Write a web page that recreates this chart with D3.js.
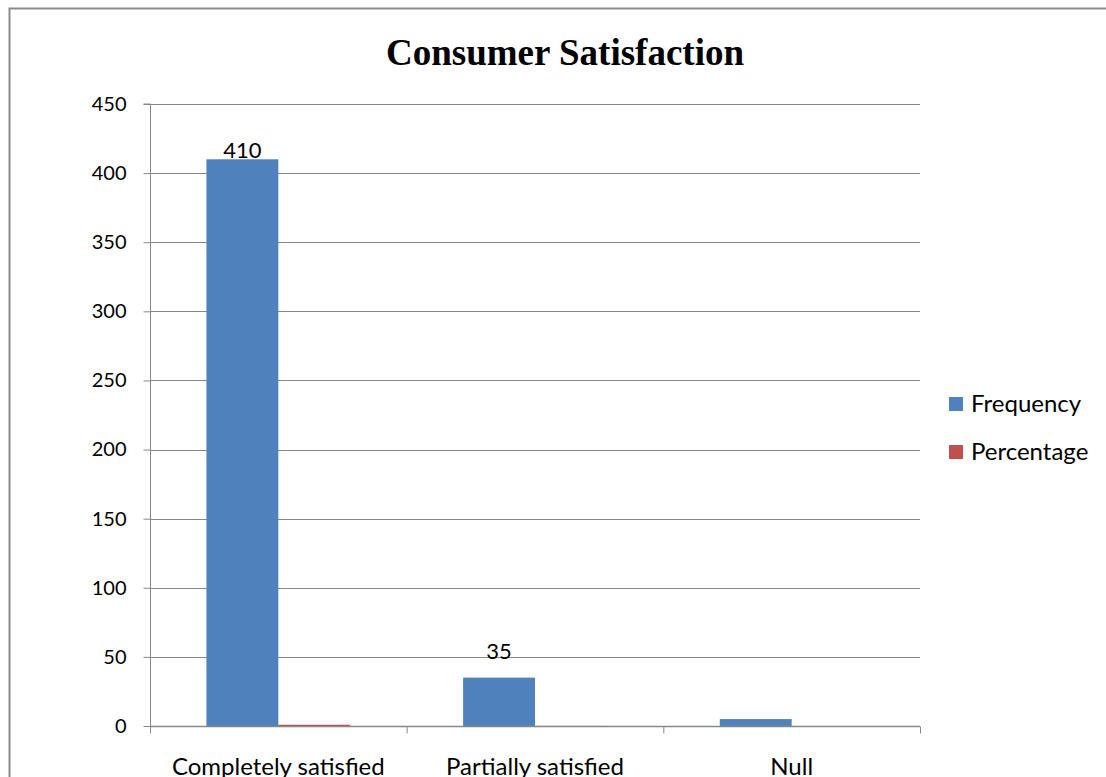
<!DOCTYPE html>
<html>
<head>
<meta charset="utf-8">
<script src="https://cdn.jsdelivr.net/npm/d3@7"></script>
<style>
html,body{margin:0;padding:0;background:#fff;}
svg{display:block;}
</style>
</head>
<body>
<svg id="chart" width="1106" height="777"></svg>
<script>
const categories = ["Completely satisfied", "Partially satisfied", "Null"];
const seriesNames = ["Frequency", "Percentage"];
const frequency = [410, 35, 5];
const percentage = [0.91, 0.08, 0.01];
const frequencyLabels = ["410", "35", ""];
const yTicks = [0, 50, 100, 150, 200, 250, 300, 350, 400, 450];
const colors = ["#4F81BD", "#C0504D"];
const title = "Consumer Satisfaction";

(function () {
const svg = d3.select("#chart");
const W = 1106, H = 777;
const pLeft = 150, pRight = 920, pTop = 104, pBottom = 726;
const sans = "Lato, 'Open Sans', sans-serif";

// outer frame
svg.append("path")
  .attr("d", `M9.5,${H+5} L9.5,8.5 L${W+5},8.5`)
  .attr("fill", "none").attr("stroke", "#8c8c8c").attr("stroke-width", 2);

const x0 = d3.scaleBand().domain(categories).range([pLeft, pRight]).paddingInner(0).paddingOuter(0);
const x1 = d3.scaleBand().domain(seriesNames).range([0, x0.bandwidth()]).paddingInner(0).paddingOuter(0.785);
const y = d3.scaleLinear().domain([0, 450]).range([pBottom, pTop]);

// gridlines
svg.append("g").selectAll("line").data(yTicks.filter(d => d > 0)).join("line")
  .attr("x1", pLeft).attr("x2", pRight)
  .attr("y1", d => Math.round(y(d)) + 0.5).attr("y2", d => Math.round(y(d)) + 0.5)
  .attr("stroke", "#888").attr("stroke-width", 1);

const data = categories.map((c, i) => ({cat: c, vals: [frequency[i], percentage[i]]}));

// bars
const groups = svg.append("g").selectAll("g").data(data).join("g")
  .attr("transform", d => `translate(${x0(d.cat)},0)`);
groups.selectAll("rect").data(d => d.vals.map((v, j) => ({v, s: seriesNames[j], j}))).join("rect")
  .attr("x", d => x1(d.s))
  .attr("width", x1.bandwidth())
  .attr("y", d => y(d.v))
  .attr("height", d => Math.max(0, y(0) - y(d.v)))
  .attr("fill", d => colors[d.j]);

// data labels
svg.append("g").selectAll("text").data(data).join("text")
  .attr("x", (d) => x0(d.cat) + x1("Frequency") + x1.bandwidth() / 2)
  .attr("y", (d, i) => i === 0 ? y(d.vals[0]) - 1 : y(d.vals[0]) - 19)
  .attr("text-anchor", "middle")
  .attr("font-family", sans)
  .attr("font-size", 22)
  .attr("fill", "#000")
  .text((d, i) => frequencyLabels[i]);

// y axis
const yAxis = d3.axisLeft(y).tickValues(yTicks).tickSize(7).tickPadding(17).tickFormat(d3.format("d"));
const gy = svg.append("g").attr("transform", `translate(${pLeft + 0.5},0)`).call(yAxis);
gy.select(".domain").attr("stroke", "#888").attr("d", `M-7,${pTop}H0V${pBottom}`);
gy.selectAll(".tick line").attr("stroke", "#888");
gy.selectAll(".tick text")
  .attr("font-family", sans)
  .attr("font-size", 20).attr("fill", "#000");

// x axis
const gx = svg.append("g").attr("transform", `translate(0,${pBottom + 0.5})`);
gx.append("line").attr("x1", pLeft).attr("x2", pRight).attr("stroke", "#888").attr("stroke-width", 1.5);
const xTickPos = categories.map(c => x0(c)).concat([pRight]);
gx.selectAll("line.t").data(xTickPos).join("line").attr("class", "t")
  .attr("x1", d => d + 0.5).attr("x2", d => d + 0.5).attr("y1", 0).attr("y2", 7)
  .attr("stroke", "#888");
gx.selectAll("text").data(categories).join("text")
  .attr("x", d => x0(d) + x0.bandwidth() / 2)
  .attr("y", 48)
  .attr("text-anchor", "middle")
  .attr("font-family", sans)
  .attr("font-size", 24).attr("fill", "#000")
  .text(d => d);

// title
svg.append("text")
  .attr("x", 565).attr("y", 65)
  .attr("text-anchor", "middle")
  .attr("font-family", "'Liberation Serif', 'Times New Roman', serif")
  .attr("font-weight", "bold").attr("font-size", 37)
  .attr("fill", "#000")
  .text(title);

// legend
const legend = svg.append("g").attr("transform", "translate(949,397)");
const li = legend.selectAll("g").data(seriesNames).join("g")
  .attr("transform", (d, i) => `translate(0,${i * 48})`);
li.append("rect").attr("width", 14).attr("height", 14).attr("fill", (d, i) => colors[i]);
li.append("text").attr("x", 22).attr("y", 15)
  .attr("font-family", sans)
  .attr("font-size", 24).attr("fill", "#000")
  .text(d => d);
})();
</script>
</body>
</html>
